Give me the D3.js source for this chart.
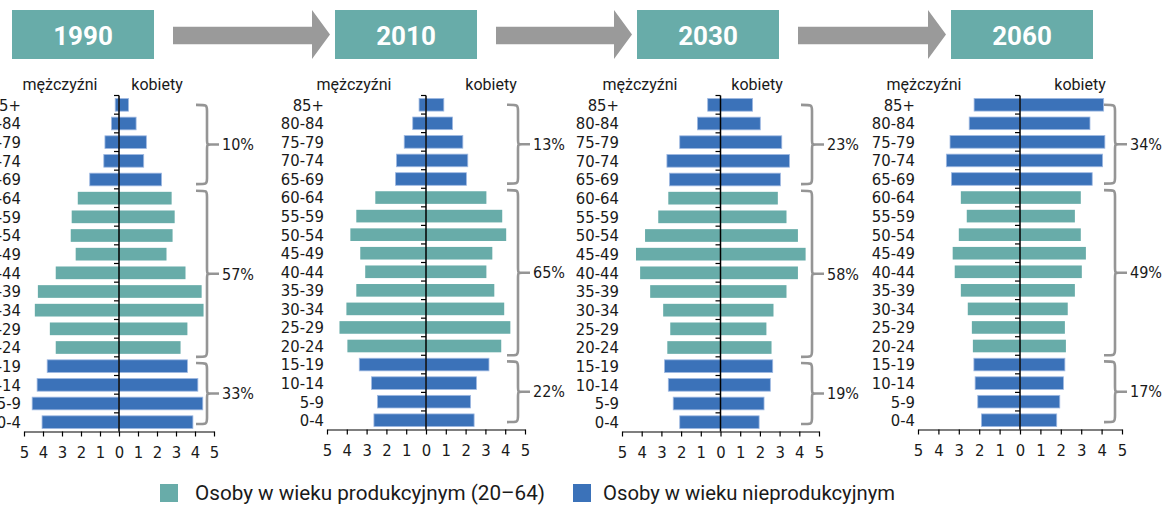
<!DOCTYPE html>
<html>
<head>
<meta charset="utf-8">
<script src="https://cdn.jsdelivr.net/npm/d3@7"></script>
<style>
  body { margin: 0; background: #fff; }
  .lab { font-family: "DejaVu Sans Condensed", "DejaVu Sans", sans-serif; fill: #1a1a1a; }
  .din { font-family: Roboto, "Noto Sans", sans-serif; fill: #1a1a1a; }
</style>
</head>
<body>
<svg width="1164" height="506"></svg>
<script>
// age groups, top to bottom
var ages = ["85+","80-84","75-79","70-74","65-69","60-64","55-59","50-54","45-49",
            "40-44","35-39","30-34","25-29","20-24","15-19","10-14","5-9","0-4"];
var productive = ["60-64","55-59","50-54","45-49","40-44","35-39","30-34","25-29","20-24"];
var years = ["1990","2010","2030","2060"];

// % of population, men (left) and women (right)
var men1990   = [0.2,0.4,0.74,0.8,1.54,2.17,2.49,2.54,2.28,3.33,4.27,4.43,3.64,3.33,3.78,4.31,4.57,4.05];
var women1990 = [0.5,0.9,1.44,1.3,2.24,2.77,2.93,2.82,2.5,3.5,4.35,4.45,3.6,3.24,3.6,4.15,4.41,3.89];
var men2010   = [0.35,0.67,1.1,1.49,1.54,2.56,3.52,3.82,3.32,3.07,3.52,4.02,4.37,3.97,3.37,2.75,2.45,2.63];
var women2010 = [0.9,1.34,1.86,2.11,2.04,3.05,3.85,4.05,3.35,3.05,3.45,3.95,4.26,3.8,3.18,2.55,2.25,2.43];
var men2030   = [0.65,1.17,2.07,2.72,2.59,2.65,3.16,3.83,4.29,4.08,3.57,2.91,2.55,2.7,2.84,2.65,2.4,2.07];
var women2030 = [1.63,2.02,3.11,3.5,3.04,2.91,3.35,3.93,4.32,3.93,3.35,2.69,2.33,2.59,2.65,2.53,2.21,1.96];
var men2060   = [2.25,2.49,3.43,3.61,3.36,2.9,2.61,3.0,3.3,3.2,2.9,2.56,2.36,2.31,2.26,2.2,2.07,1.89];
var women2060 = [4.1,3.43,4.16,4.05,3.54,2.98,2.69,2.98,3.23,3.03,2.69,2.34,2.2,2.25,2.2,2.13,1.95,1.8];

// brackets: 65+, 20-64, 0-19
var groupFirst = ["85+","60-64","15-19"];
var groupLast  = ["65-69","20-24","0-4"];
var share1990 = [10,57,33];
var share2010 = [13,65,22];
var share2030 = [23,58,19];
var share2060 = [34,49,17];

var xTicks = [-5,-4,-3,-2,-1,0,1,2,3,4,5];
var legendLabels = ["Osoby w wieku produkcyjnym (20\u201364)", "Osoby w wieku nieprodukcyjnym"];

var men = [men1990, men2010, men2030, men2060];
var women = [women1990, women2010, women2030, women2060];
var shares = [share1990, share2010, share2030, share2060];

var teal = "#68aca9", blue = "#3b72b9", grey = "#959595";

var svg = d3.select("svg");

var panels = [
  {left: 24,  right: 214, bottom: 431.5, boxX: 12,  menX: 60,  womenX: 157},
  {left: 327, right: 525, bottom: 429.5, boxX: 335, menX: 354, womenX: 491},
  {left: 622, right: 819, bottom: 431.5, boxX: 637, menX: 640, womenX: 757},
  {left: 918, right: 1122, bottom: 429.5, boxX: 951, menX: 924, womenX: 1080}
];
var topY = 95.5, boxW = 142;
// bracket insets (fraction of step) for top/bottom of each group
var inset = [[0.5, 0.25], [0.1, 0], [0.33, 0.4]];

// year boxes and arrows
panels.forEach(function(p, i) {
  svg.append("rect").attr("x", p.boxX).attr("y", 10).attr("width", boxW).attr("height", 49).attr("fill", teal);
  svg.append("text").attr("x", p.boxX + boxW / 2).attr("y", 45)
    .attr("text-anchor", "middle").attr("fill", "#fff")
    .style("font-family", "Roboto, sans-serif").style("font-weight", "bold").style("font-size", "26px")
    .text(years[i]);
  if (i < panels.length - 1) {
    var x0 = p.boxX + boxW + 19, x1 = panels[i + 1].boxX - 5, hx = x1 - 18;
    svg.append("path")
      .attr("d", "M" + x0 + ",26.7H" + hx + "V10L" + x1 + ",34.5L" + hx + ",59V44.3H" + x0 + "Z")
      .attr("fill", "#9a9a9a");
  }
});

panels.forEach(function(p, i) {
  var x = d3.scaleLinear().domain([-5, 5]).range([p.left, p.right]);
  var y = d3.scaleBand().domain(ages).range([topY, p.bottom]).paddingInner(0.32).paddingOuter(0.16);
  var step = y.step();
  var g = svg.append("g");

  var rows = ages.map(function(a, k) { return {age: a, m: men[i][k], w: women[i][k]}; });
  var col = function(d) { return productive.indexOf(d.age) >= 0 ? teal : blue; };
  var edge = function(d) { return productive.indexOf(d.age) >= 0 ? "none" : "#9fb9e2"; };

  g.selectAll(".m").data(rows).enter().append("rect")
    .attr("x", function(d) { return x(-d.m); })
    .attr("y", function(d) { return y(d.age); })
    .attr("width", function(d) { return x(0) - x(-d.m); })
    .attr("height", y.bandwidth())
    .attr("fill", col).attr("stroke", edge).attr("stroke-width", 0.8);
  g.selectAll(".w").data(rows).enter().append("rect")
    .attr("x", x(0))
    .attr("y", function(d) { return y(d.age); })
    .attr("width", function(d) { return x(d.w) - x(0); })
    .attr("height", y.bandwidth())
    .attr("fill", col).attr("stroke", edge).attr("stroke-width", 0.8);

  // age labels
  g.selectAll(".age").data(ages).enter().append("text")
    .attr("class", "lab")
    .attr("x", p.left - 3)
    .attr("y", function(a) { return y(a) + y.bandwidth() / 2; })
    .attr("dy", "0.36em")
    .attr("text-anchor", "end")
    .style("font-size", "16.5px")
    .text(function(a) { return a; });

  // zero axis with boundary ticks
  g.append("line").attr("x1", x(0)).attr("x2", x(0)).attr("y1", topY).attr("y2", p.bottom)
    .attr("stroke", "#000").attr("stroke-width", 1.5);
  g.selectAll(".yt").data(ages).enter().append("line")
    .attr("x1", x(0) - 5).attr("x2", x(0))
    .attr("y1", function(a) { return y(a) - step * 0.16; })
    .attr("y2", function(a) { return y(a) - step * 0.16; })
    .attr("stroke", "#000").attr("stroke-width", 1.2);

  // bottom axis
  var ax = g.append("g").attr("transform", "translate(0," + p.bottom + ")")
    .call(d3.axisBottom(x).tickValues(xTicks).tickSizeInner(5).tickSizeOuter(0)
      .tickFormat(function(d) { return Math.abs(d); }));
  ax.select(".domain").attr("stroke", "#000").attr("stroke-width", 1.2);
  ax.selectAll(".tick line").attr("stroke", "#000").attr("stroke-width", 1.2);
  ax.selectAll("text").attr("class", "lab").attr("y", 15).attr("fill", "#1a1a1a")
    .style("font-size", "16.5px");

  // headers
  g.append("text").attr("class", "din").attr("x", p.menX).attr("y", 90)
    .attr("text-anchor", "middle").style("font-size", "16px").text("mężczyźni");
  g.append("text").attr("class", "din").attr("x", p.womenX).attr("y", 90)
    .attr("text-anchor", "middle").style("font-size", "16px").text("kobiety");

  // brackets
  var xh = p.right - 18, xv = p.right - 7, xp = p.right + 5, r = 6;
  groupFirst.forEach(function(a, k) {
    var y0 = y(a) - step * 0.16 + inset[k][0] * step;
    var y1 = y(groupLast[k]) - step * 0.16 + step - inset[k][1] * step;
    var ym = (y0 + y1) / 2;
    var d = "M" + xh + "," + y0 + "C" + xv + "," + y0 + " " + xv + "," + y0 + " " + xv + "," + (y0 + r) +
      "V" + (ym - r) + "C" + xv + "," + ym + " " + xv + "," + ym + " " + (xv + 4) + "," + ym + "H" + xp +
      "M" + (xv + 4) + "," + ym + "C" + xv + "," + ym + " " + xv + "," + ym + " " + xv + "," + (ym + r) +
      "V" + (y1 - r) + "C" + xv + "," + y1 + " " + xv + "," + y1 + " " + xh + "," + y1;
    g.append("path").attr("d", d).attr("fill", "none").attr("stroke", grey).attr("stroke-width", 2.6);
    g.append("text").attr("class", "lab").attr("x", p.right + 8).attr("y", ym).attr("dy", "0.36em")
      .style("font-size", "16px").text(shares[i][k] + "%");
  });
});

// legend
var legX = [160, 573], legTextX = [195, 603], legW = [350, 292];
[teal, blue].forEach(function(c, k) {
  svg.append("rect").attr("x", legX[k]).attr("y", 484).attr("width", 18).attr("height", 18).attr("fill", c);
  svg.append("text").attr("class", "din").attr("x", legTextX[k]).attr("y", 500)
    .style("font-size", "20px")
    .attr("textLength", legW[k]).attr("lengthAdjust", "spacingAndGlyphs")
    .text(legendLabels[k]);
});
</script>
</body>
</html>
